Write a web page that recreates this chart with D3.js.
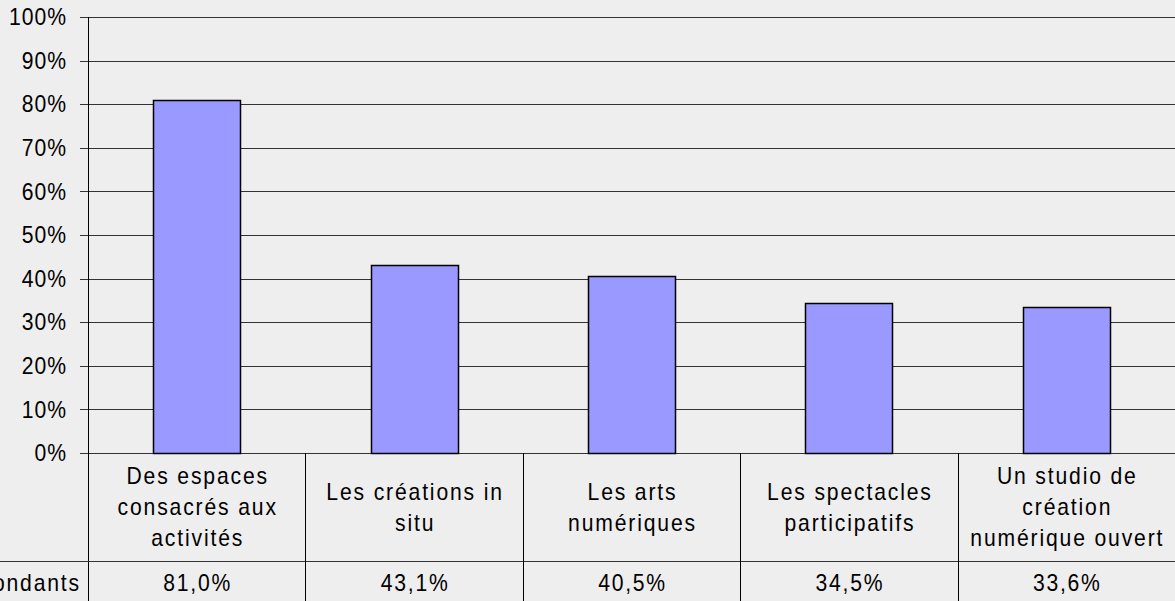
<!DOCTYPE html>
<meta charset="utf-8">
<style>
  body { margin: 0; background: #eeeeee; }
  svg { display: block; font-family: Arial, "Liberation Sans", sans-serif; }
</style>
<body>
<svg width="1175" height="601"></svg>
<script src="https://d3js.org/d3.v7.min.js"></script>
<script>

// chart data
var categories = [
  ["Des espaces", "consacrés aux", "activités"],
  ["Les créations in", "situ"],
  ["Les arts", "numériques"],
  ["Les spectacles", "participatifs"],
  ["Un studio de", "création", "numérique ouvert"]
];
var values = [81.0, 43.1, 40.5, 34.5, 33.6];
var yTicks = [0, 10, 20, 30, 40, 50, 60, 70, 80, 90, 100];
var rowLabel = "% des répondants";

var svg = d3.select("svg"),
    width = 1175,
    plotLeft = 88,
    plotTop = 17,
    plotBottom = 453,
    tableMid = 561,
    tableEnd = 620,
    fontSize = 23,
    squeeze = 0.92;   // the original text is a bit narrow and tall

var x = d3.scaleBand()
    .domain(d3.range(values.length))
    .range([plotLeft, width])
    .paddingInner(0)
    .paddingOuter(0);

var y = d3.scaleLinear()
    .domain([0, 100])
    .range([plotBottom, plotTop]);

var fmt = function(v) { return v.toFixed(1).replace(".", ",") + "%"; };

// helper: text placed with a translate + horizontal squeeze
function label(g, tx, ty, anchor, spacing) {
  return g.append("text")
    .attr("transform", "translate(" + tx + "," + ty + ") scale(" + squeeze + ",1)")
    .attr("dy", "0.36em")
    .attr("text-anchor", anchor)
    .attr("font-size", fontSize)
    .attr("letter-spacing", spacing)
    .attr("fill", "#000");
}

// gridlines + tick marks
svg.append("g")
  .selectAll("line")
  .data(yTicks)
  .join("line")
    .attr("x1", plotLeft - 8)
    .attr("x2", width)
    .attr("y1", function(d) { return Math.round(y(d)) + 0.5; })
    .attr("y2", function(d) { return Math.round(y(d)) + 0.5; })
    .attr("stroke", "#333");

// y tick labels
var tickG = svg.append("g");
yTicks.forEach(function(d) {
  label(tickG, 67, y(d), "end", 1.1).text(d + "%");
});

// bars
var barW = x.bandwidth() * 0.4;
svg.append("g")
  .selectAll("rect")
  .data(values)
  .join("rect")
    .attr("x", function(d, i) { return Math.round(x(i) + (x.bandwidth() - barW) / 2) + 0.5; })
    .attr("y", function(d) { return Math.round(y(d)) + 0.5; })
    .attr("width", Math.round(barW))
    .attr("height", function(d) { return Math.round(y(0)) - Math.round(y(d)); })
    .attr("fill", "#9999ff")
    .attr("stroke", "#000")
    .attr("stroke-width", 1.5);

// y axis line
svg.append("line")
    .attr("x1", plotLeft + 0.5).attr("x2", plotLeft + 0.5)
    .attr("y1", plotTop).attr("y2", tableEnd)
    .attr("stroke", "#000");

// table lines
svg.append("line")
    .attr("x1", 0).attr("x2", width)
    .attr("y1", tableMid + 0.5).attr("y2", tableMid + 0.5)
    .attr("stroke", "#333");

svg.append("g")
  .selectAll("line")
  .data(d3.range(1, values.length))
  .join("line")
    .attr("x1", function(i) { return Math.round(x(i)) + 0.5; })
    .attr("x2", function(i) { return Math.round(x(i)) + 0.5; })
    .attr("y1", plotBottom)
    .attr("y2", tableEnd)
    .attr("stroke", "#000");

// category labels
var lineH = 31;
var catG = svg.append("g");
categories.forEach(function(lines, i) {
  var cx = x(i) + x.bandwidth() / 2,
      cy = (plotBottom + tableMid) / 2,
      start = cy - (lines.length - 1) * lineH / 2;
  lines.forEach(function(t, j) {
    label(catG, cx + 1, start + j * lineH, "middle", 2.0).text(t);
  });
});

// values row
var valG = svg.append("g");
values.forEach(function(v, i) {
  label(valG, x(i) + x.bandwidth() / 2 + 1, 583, "middle", 1.9).text(fmt(v));
});

label(svg, 81, 583, "end", 2.0).text(rowLabel);

</script>
</body>
